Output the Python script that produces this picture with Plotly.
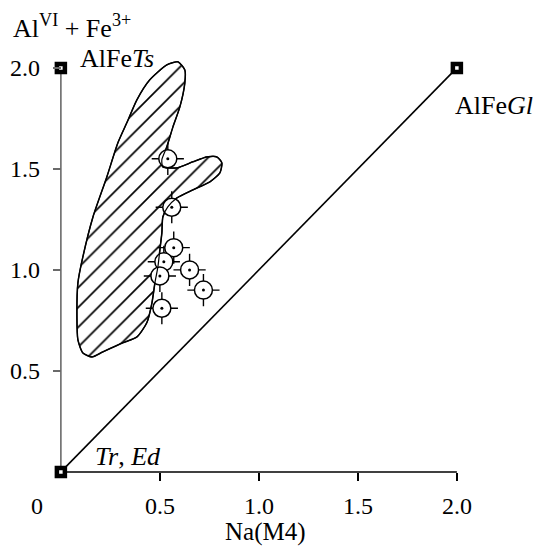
import plotly.graph_objects as go

# ---- data -------------------------------------------------------------
# outline of the hatched field (Na(M4), AlVI+Fe3+)
field_na = [0.591, 0.626, 0.626, 0.601, 0.566, 0.535, 0.510, 0.515, 0.586, 0.667,
            0.737, 0.788, 0.813, 0.803, 0.753, 0.667, 0.586, 0.540, 0.515, 0.510,
            0.500, 0.490, 0.475, 0.460, 0.434, 0.384, 0.313, 0.212, 0.157, 0.111,
            0.086, 0.081, 0.086, 0.111, 0.162, 0.232, 0.288, 0.333, 0.384, 0.449,
            0.535, 0.591]
field_alfe = [2.030, 1.990, 1.926, 1.807, 1.708, 1.609, 1.545, 1.510, 1.505, 1.535,
              1.559, 1.559, 1.530, 1.480, 1.436, 1.396, 1.356, 1.312, 1.262, 1.183,
              1.099, 1.015, 0.936, 0.837, 0.738, 0.668, 0.639, 0.594, 0.569, 0.589,
              0.653, 0.767, 0.936, 1.064, 1.262, 1.460, 1.629, 1.728, 1.842, 1.941,
              2.015, 2.030]

# amphibole analyses
sample_na = [0.54, 0.56, 0.57, 0.52, 0.50, 0.65, 0.72, 0.51]
sample_alfe = [1.55, 1.31, 1.11, 1.04, 0.97, 1.00, 0.90, 0.81]

# end members
end_names = ["AlFe<i>Ts</i>", "AlFe<i>Gl</i>", "<i>Tr</i>, <i>Ed</i>"]
end_na = [0.0, 2.0, 0.0]
end_alfe = [2.0, 2.0, 0.0]

x_tickvals = [0.5, 1.0, 1.5, 2.0]
x_ticktext = ["0.5", "1.0", "1.5", "2.0"]
y_tickvals = [0.5, 1.0, 1.5, 2.0]
y_ticktext = ["0.5", "1.0", "1.5", "2.0"]
x_origin_label = "0"
x_title = "Na(M4)"
y_title = "Al<sup>VI</sup> + Fe<sup>3+</sup>"

# ---- layout constants ---------------------------------------------------
W, H = 534, 547
ML, MB = 49, 63
PW, PH = W - ML, H - MB
X_MIN, Y_MIN = -0.06, -0.06
X_MAX = X_MIN + PW / 198.0
Y_MAX = Y_MIN + PH / 202.0
FONT = "Liberation Serif"


def px2paper(px, py):
    return (px - ML) / PW, (H - MB - py) / PH


fig = go.Figure()

# hatched field
fig.add_trace(go.Scatter(
    x=field_na, y=field_alfe, mode="lines", fill="toself",
    line=dict(color="black", width=1.5, shape="spline", smoothing=0.6),
    fillcolor="white",
    fillpattern=dict(shape="/", size=14, solidity=0.12, fgcolor="black",
                     fgopacity=1, bgcolor="white"),
    hoverinfo="skip", showlegend=False))

# axis lines drawn as traces, ending at 2.0
fig.add_trace(go.Scatter(x=[end_na[2], end_na[0]], y=[end_alfe[2], end_alfe[0]], mode="lines",
                         line=dict(color="#6a6a6a", width=1.6), showlegend=False, hoverinfo="skip"))
fig.add_trace(go.Scatter(x=[end_na[2], end_na[1]], y=[end_alfe[2], end_alfe[2]], mode="lines",
                         line=dict(color="black", width=1.5), showlegend=False, hoverinfo="skip"))
# Tr-Gl join
fig.add_trace(go.Scatter(x=[end_na[2], end_na[1]], y=[end_alfe[2], end_alfe[1]], mode="lines",
                         line=dict(color="black", width=1.6), showlegend=False, hoverinfo="skip"))

# sample symbols: crosshair + circle + centre dot
fig.add_trace(go.Scatter(x=sample_na, y=sample_alfe, mode="markers",
                         marker=dict(symbol="cross-thin", size=23, line=dict(color="black", width=1.4)),
                         showlegend=False, hoverinfo="skip"))
fig.add_trace(go.Scatter(x=sample_na, y=sample_alfe, mode="markers",
                         marker=dict(symbol="circle", size=18, color="white",
                                     line=dict(color="black", width=1.5)),
                         showlegend=False, hoverinfo="skip"))
# field outline again over the circles
fig.add_trace(go.Scatter(x=field_na, y=field_alfe, mode="lines",
                         line=dict(color="black", width=1.2, shape="spline", smoothing=0.6),
                         showlegend=False, hoverinfo="skip"))
fig.add_trace(go.Scatter(x=sample_na, y=sample_alfe, mode="markers",
                         marker=dict(symbol="circle", size=3, color="black"),
                         showlegend=False, hoverinfo="skip"))

# end-member squares
fig.add_trace(go.Scatter(x=end_na, y=end_alfe, mode="markers", cliponaxis=False,
                         marker=dict(symbol="square", size=8, color="white",
                                     line=dict(color="black", width=4.5)),
                         showlegend=False, hoverinfo="skip"))

# end-member labels
label_pos = [(78, 58), (453, 105), (93, 456)]
for name, (px, py) in zip(end_names, label_pos):
    ax_, ay_ = px2paper(px, py)
    fig.add_annotation(text=name, xref="paper", yref="paper", x=ax_, y=ay_,
                       xanchor="left", yanchor="middle", showarrow=False,
                       font=dict(family=FONT, size=26, color="black"))

# origin label, axis titles
ox, oy = px2paper(37, 506)
fig.add_annotation(text=x_origin_label, xref="paper", yref="paper", x=ox, y=oy,
                   xanchor="center", yanchor="middle", showarrow=False,
                   font=dict(family=FONT, size=24, color="black"))
tx, ty = px2paper(265, 532)
fig.add_annotation(text=x_title, xref="paper", yref="paper", x=tx, y=ty,
                   xanchor="center", yanchor="middle", showarrow=False,
                   font=dict(family=FONT, size=25, color="black"))
yx, yy = px2paper(11, 27)
fig.add_annotation(text=y_title, xref="paper", yref="paper", x=yx, y=yy,
                   xanchor="left", yanchor="middle", showarrow=False,
                   font=dict(family=FONT, size=26, color="black"))

fig.update_layout(
    width=W, height=H,
    margin=dict(l=ML, r=0, t=0, b=MB, pad=0),
    paper_bgcolor="white", plot_bgcolor="white",
    font=dict(family=FONT, size=24, color="black"),
    showlegend=False,
    xaxis=dict(range=[X_MIN, X_MAX], showgrid=False, zeroline=False, showline=False,
               anchor="free", position=(0 - Y_MIN) / (Y_MAX - Y_MIN),
               tickmode="array", tickvals=x_tickvals, ticktext=x_ticktext,
               ticks="outside", ticklen=8, tickwidth=1.5, tickcolor="black",
               ticklabelstandoff=4,
               tickfont=dict(family=FONT, size=24, color="black")),
    yaxis=dict(range=[Y_MIN, Y_MAX], showgrid=False, zeroline=False, showline=False,
               anchor="free", position=(0 - X_MIN) / (X_MAX - X_MIN),
               tickmode="array", tickvals=y_tickvals, ticktext=y_ticktext,
               ticks="outside", ticklen=8, tickwidth=1.5, tickcolor="#6a6a6a",
               ticklabelstandoff=8,
               tickfont=dict(family=FONT, size=24, color="black")),
)

fig.write_html("out.html")
